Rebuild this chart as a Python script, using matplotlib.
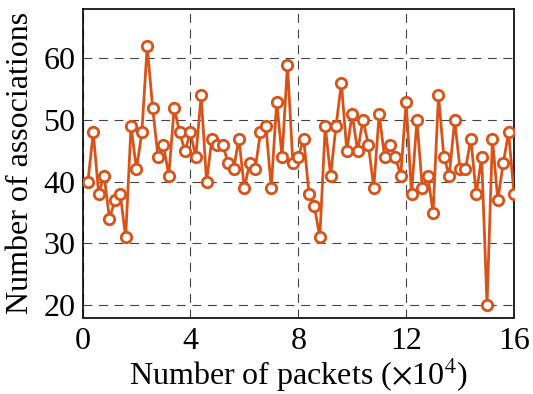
import numpy as np
import matplotlib
matplotlib.use("Agg")
import matplotlib.pyplot as plt

# -------------------------------
# Data
# -------------------------------
packets = np.arange(1, 81) * 0.2  # x10^4
associations = [
    40, 48, 38, 41, 34, 37, 38, 31, 49, 42, 48, 62, 52, 44, 46, 41, 52, 48, 45, 48,
    44, 54, 40, 47, 46, 46, 43, 42, 47, 39, 43, 42, 48, 49, 39, 53, 44, 59, 43, 44,
    47, 38, 36, 31, 49, 41, 49, 56, 45, 51, 45, 50, 46, 39, 51, 44, 46, 44, 41, 53,
    38, 50, 39, 41, 35, 54, 44, 41, 50, 42, 42, 47, 38, 44, 20, 47, 37, 43, 48, 38,
]
x_ticks = [0, 4, 8, 12, 16]
y_ticks = [20, 30, 40, 50, 60]

plt.rcParams["font.family"] = ["Liberation Serif", "DejaVu Serif"]
plt.rcParams["mathtext.fontset"] = "stix"

fig = plt.figure(figsize=(5.33, 3.94), dpi=100)
ax = fig.add_axes([82.5 / 533, 1 - 317.5 / 394, 431.5 / 533, 308.5 / 394])

ax.plot(packets, associations, color="#D95319", linewidth=2.0,
        marker="o", markersize=7.5, markerfacecolor="white",
        markeredgecolor="#D95319", markeredgewidth=2.0, zorder=3)

ax.set_xlim(0, 16)
ax.set_ylim(18, 68)
ax.set_xticks(x_ticks)
ax.set_yticks(y_ticks)
ax.tick_params(axis="x", labelsize=23, length=0, pad=7)
ax.tick_params(axis="y", labelsize=23, length=0, pad=5)
ax.grid(True, color="#222222", linestyle=(0, (8, 6)), linewidth=0.8, alpha=0.85)
for s in ax.spines.values():
    s.set_linewidth(1.2)

ax.set_xlabel(r"Number of packets ($\times$10$^4$)", fontsize=23, labelpad=0)
ax.set_ylabel("Number of associations", fontsize=23, labelpad=6)

fig.savefig("out.png", dpi=100)
